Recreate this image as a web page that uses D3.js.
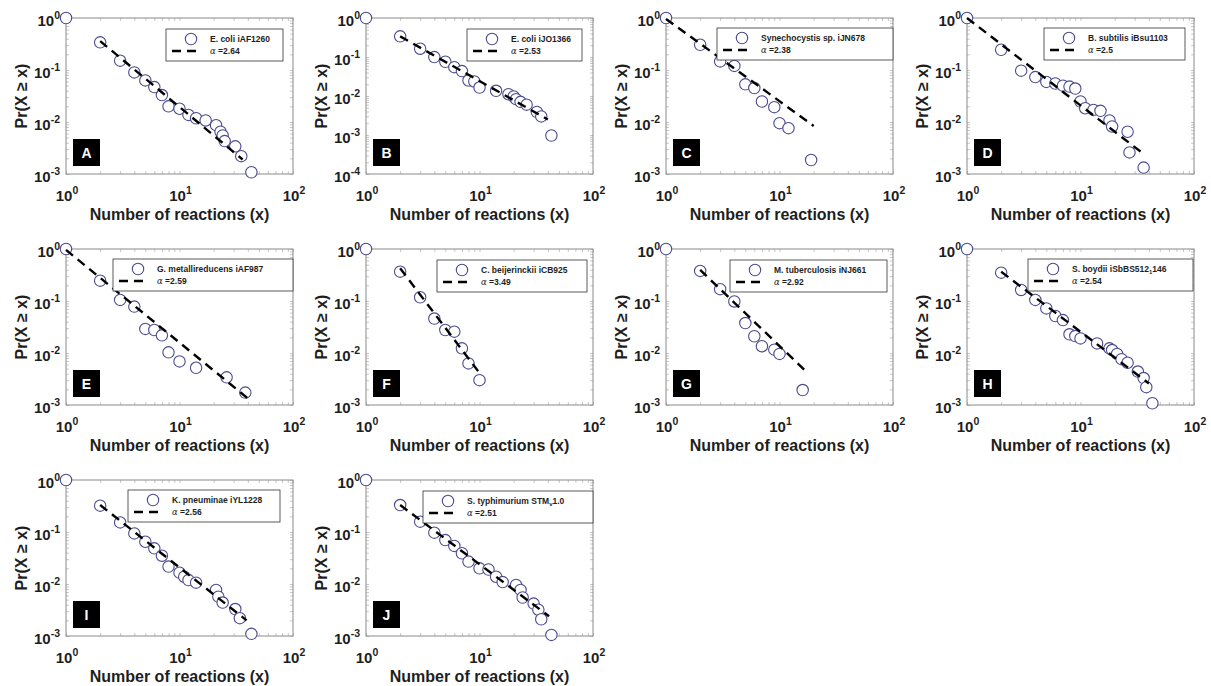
<!DOCTYPE html>
<html><head><meta charset="utf-8">
<script src="https://cdn.jsdelivr.net/npm/d3@7"></script>
<style>body{margin:0;background:#fff} text{font-family:"Liberation Sans",Arial,sans-serif}</style>
</head><body><svg id="c" width="1211" height="686"></svg>
<script>
// ---------- data ----------
const panelLabels = ["A","B","C","D","E","F","G","H","I","J"];
const strainNames = [
  ["E. coli iAF1260"],
  ["E. coli iJO1366"],
  ["Synechocystis sp. iJN678"],
  ["B. subtilis iBsu1103"],
  ["G. metallireducens iAF987"],
  ["C. beijerinckii iCB925"],
  ["M. tuberculosis iNJ661"],
  ["S. boydii iSbBS512", "1", "146"],
  ["K. pneuminae iYL1228"],
  ["S. typhimurium STM", "v", "1.0"]
];
const alphas = ["2.64","2.53","2.38","2.5","2.59","3.49","2.92","2.54","2.56","2.51"];
const yMinimum = [1e-3,1e-4,1e-3,1e-3,1e-3,1e-3,1e-3,1e-3,1e-3,1e-3];
const xTickValues = [1,10,100];

const degA = [1,2,3,4,5,6,7,8,10,12,14,17,21,23,24,25,31,35,43];
const prA  = [1,0.34,0.151,0.090,0.063,0.047,0.033,0.020,0.018,0.0137,0.0118,0.0107,0.0087,0.0065,0.0055,0.0043,0.0034,0.0022,0.00108];
const degB = [1,2,3,4,5,6,7,8,9,10,14,18,20,21,23,26,32,35,43];
const prB  = [1,0.338,0.163,0.0995,0.0755,0.055,0.0435,0.025,0.0236,0.0165,0.0136,0.0111,0.0097,0.0083,0.0071,0.006,0.0039,0.003,0.00097];
const degC = [1,2,3,4,5,6,7,9,10,12,19];
const prC  = [1,0.306,0.146,0.12,0.053,0.045,0.0248,0.0193,0.0095,0.0076,0.00186];
const degD = [1,2,3,4,5,6,7,8,9,10,11,13,15,18,19,26,27,36];
const prD  = [1,0.245,0.097,0.073,0.059,0.055,0.050,0.048,0.044,0.0248,0.0184,0.0171,0.0164,0.0107,0.0082,0.0065,0.0026,0.00133];
const degE = [1,2,3,4,5,6,7,8,10,14,26,38];
const prE  = [1,0.246,0.105,0.078,0.029,0.0277,0.0219,0.0103,0.0069,0.0052,0.0034,0.00173];
const degF = [1,2,3,4,5,6,7,8,10];
const prF  = [1,0.367,0.118,0.046,0.0277,0.0257,0.0123,0.0063,0.003];
const degG = [1,2,3,4,5,6,7,9,10,16];
const prG  = [1,0.379,0.169,0.098,0.0377,0.021,0.0135,0.0116,0.0096,0.00194];
const degH = [1,2,3,4,5,6,7,8,9,10,14,18,19,21,23,26,32,36,38,43];
const prH  = [1,0.351,0.163,0.105,0.072,0.0515,0.043,0.0229,0.0212,0.0191,0.0153,0.0123,0.0114,0.0096,0.0076,0.0065,0.0044,0.0033,0.0022,0.00108];
const degI = [1,2,3,4,5,6,7,8,10,11,12,14,21,22,24,31,34,43];
const prI  = [1,0.321,0.153,0.094,0.065,0.0485,0.035,0.0216,0.0165,0.0138,0.0119,0.0106,0.0077,0.0057,0.0044,0.0033,0.0022,0.0011];
const degJ = [1,2,3,4,5,6,7,8,10,12,14,16,21,23,24,30,33,35,43];
const prJ  = [1,0.33,0.158,0.097,0.070,0.054,0.039,0.027,0.020,0.019,0.0138,0.0109,0.0096,0.0077,0.0055,0.0042,0.0032,0.0021,0.00105];

// fitted power-law lines: [x start, x end] and [y start, y end]
const fitX = [[2,36],[2,40],[1,20],[1,36],[1,40],[2,10.3],[2,18],[2,40],[2,39],[2,41]];
const fitY = [[0.36,0.0019],[0.338,0.0025],[0.96,0.0084],[1,0.00243],[0.96,0.00134],[0.425,0.0038],[0.396,0.004],[0.366,0.0026],[0.33,0.002],[0.33,0.0024]];

const degs = [degA,degB,degC,degD,degE,degF,degG,degH,degI,degJ];
const prs  = [prA,prB,prC,prD,prE,prF,prG,prH,prI,prJ];

// ---------- layout ----------
const colLeft = [66,366,666,967], rowTop = [18,249,480], W = 227, H = 156;
const legendLeft  = [100,101,51,77,47,71,64,61,62,57];
const legendWidth = [117,115,176,141,180,150,157,165,152,170];
const legendTop   = [11,11,10,10,10,11,11,10,10,11];

const svg = d3.select("#c");
const markerStroke = "#4b4b8f";
const ink = "#1e1e1e";

panelLabels.forEach((lab,i)=>{
  const col = i%4, row = Math.floor(i/4);
  const g = svg.append("g").attr("transform",`translate(${colLeft[col]},${rowTop[row]})`);
  const x = d3.scaleLog().domain([1,100]).range([0,W]);
  const y = d3.scaleLog().domain([yMinimum[i],1]).range([H,0]);

  // minor/major ticks (inward)
  const tickStyle = sel => { sel.select(".domain").remove(); sel.selectAll("line").attr("stroke","#c8c8c8"); sel.selectAll("text").remove(); };
  g.append("g").attr("transform",`translate(0,${H})`).call(d3.axisBottom(x).tickSizeInner(-3).tickSizeOuter(0)).call(tickStyle);
  g.append("g").call(d3.axisTop(x).tickSizeInner(-3).tickSizeOuter(0)).call(tickStyle);
  g.append("g").call(d3.axisLeft(y).tickSizeInner(-3).tickSizeOuter(0)).call(tickStyle);
  g.append("g").attr("transform",`translate(${W},0)`).call(d3.axisRight(y).tickSizeInner(-3).tickSizeOuter(0)).call(tickStyle);

  // frame
  g.append("rect").attr("x",0).attr("y",0).attr("width",W).attr("height",H)
    .attr("fill","none").attr("stroke","#8a8a8a").attr("stroke-width",1);

  // x tick labels
  xTickValues.forEach(v=>{
    const e = Math.round(Math.log10(v));
    const t = g.append("text").attr("x",x(v)+1).attr("y",H+27).attr("text-anchor","middle")
      .attr("font-size",15).attr("font-weight","bold").attr("fill",ink);
    t.append("tspan").text("10");
    t.append("tspan").attr("font-size",10.5).attr("dy",-7).text(e);
  });
  // y tick labels
  const yDec = d3.range(Math.round(Math.log10(yMinimum[i])),1).map(e=>Math.pow(10,e));
  yDec.forEach(v=>{
    const e = Math.round(Math.log10(v));
    const t = g.append("text").attr("x",-6).attr("y",y(v)+8).attr("text-anchor","end")
      .attr("font-size",15).attr("font-weight","bold").attr("fill",ink);
    t.append("tspan").text("10");
    t.append("tspan").attr("font-size",10.5).attr("dy",-7).text(e===0?"0":"-"+(-e));
  });

  // axis titles
  g.append("text").attr("x",W/2).attr("y",H+46).attr("text-anchor","middle")
    .attr("font-size",16).attr("font-weight","bold").attr("fill",ink).text("Number of reactions (x)");
  g.append("text").attr("transform",`translate(-39,${H/2}) rotate(-90)`).attr("text-anchor","middle")
    .attr("font-size",16).attr("font-weight","bold").attr("fill",ink).text("Pr(X \u2265 x)");

  // markers
  g.selectAll("circle.pt").data(degs[i].map((d,k)=>[d,prs[i][k]])).enter().append("circle")
    .attr("class","pt").attr("cx",d=>x(d[0])).attr("cy",d=>y(d[1])).attr("r",5.7)
    .attr("fill","#fff").attr("stroke",markerStroke).attr("stroke-width",1.1);

  // fit line
  const line = d3.line().x(d=>x(d[0])).y(d=>y(d[1]));
  g.append("path").datum(fitX[i].map((xv,k)=>[xv,fitY[i][k]])).attr("d",line)
    .attr("fill","none").attr("stroke","#000").attr("stroke-width",2.4).attr("stroke-dasharray","9,6");

  // legend
  const lg = g.append("g").attr("transform",`translate(${legendLeft[i]},${legendTop[i]})`);
  lg.append("rect").attr("width",legendWidth[i]).attr("height",32).attr("fill","#fff").attr("stroke","#333").attr("stroke-width",0.8);
  lg.append("circle").attr("cx",25).attr("cy",10).attr("r",5.7).attr("fill","#fff").attr("stroke",markerStroke).attr("stroke-width",1.1);
  lg.append("line").attr("x1",6).attr("x2",35).attr("y1",22).attr("y2",22)
    .attr("stroke","#000").attr("stroke-width",2.4).attr("stroke-dasharray","9,6");
  const t1 = lg.append("text").attr("x",44).attr("y",13).attr("font-size",8.5).attr("font-weight","bold").attr("fill",ink);
  const nm = strainNames[i];
  t1.append("tspan").text(nm[0]);
  if (nm.length>1){
    t1.append("tspan").attr("font-size",6).attr("dy",2).text(nm[1]);
    t1.append("tspan").attr("dy",-2).text(nm[2]);
  }
  const t2 = lg.append("text").attr("x",44).attr("y",25).attr("font-size",8.5).attr("font-weight","bold").attr("fill",ink);
  t2.append("tspan").attr("font-style","italic").attr("font-weight","normal").attr("font-family","DejaVu Serif").text("\u03b1");
  t2.append("tspan").text(" =" + alphas[i]);

  // panel letter
  g.append("rect").attr("x",7).attr("y",H-35).attr("width",27).attr("height",27).attr("fill","#000");
  g.append("text").attr("x",20.5).attr("y",H-16).attr("text-anchor","middle").attr("font-size",14)
    .attr("font-weight","bold").attr("fill","#fff").text(lab);
});
</script></body></html>
